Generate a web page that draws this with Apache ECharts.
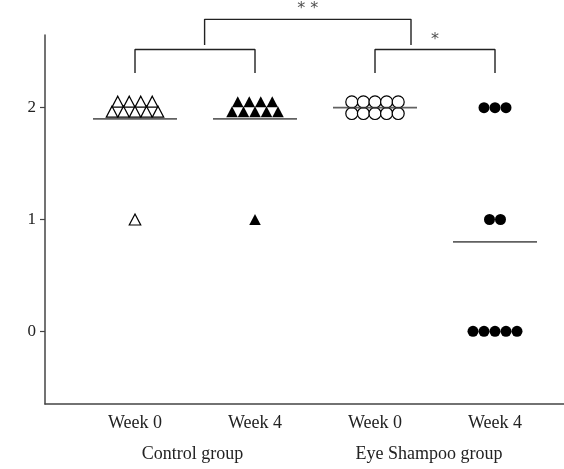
<!DOCTYPE html>
<html>
<head>
<meta charset="utf-8">
<script src="https://cdn.jsdelivr.net/npm/echarts@6/dist/echarts.min.js"></script>
<style>
html,body{margin:0;padding:0;background:#fff;}
#chart{width:564px;height:469px;}
</style>
</head>
<body>
<div id="chart"></div>
<script>
// ---- data ----
const categories = ['Week 0', 'Week 4', 'Week 0', 'Week 4'];
const groupLabels = ['Control group', 'Eye Shampoo group'];
const controlWeek0 = [2, 2, 2, 2, 2, 2, 2, 2, 2, 1];
const controlWeek4 = [2, 2, 2, 2, 2, 2, 2, 2, 2, 1];
const shampooWeek0 = [2, 2, 2, 2, 2, 2, 2, 2, 2, 2];
const shampooWeek4 = [2, 2, 2, 1, 1, 0, 0, 0, 0, 0];
const yTicks = [0, 1, 2];
const bracketFrom = [1, 3, 1.58];
const bracketTo = [2, 4, 3.3];
const bracketLabels = ['', '*', '**'];

// ---- layout / style ----
const FONT = 'Liberation Serif';
const groupLabelPos = [1.48, 3.45];
const bracketLevel = [0, 0, 1];
const levelTop = [2.52, 2.79];
const levelBottom = [2.31, 2.56];
const levelStar = [2.61, 2.88];

const groups = [controlWeek0, controlWeek4, shampooWeek0, shampooWeek4];
const styles = [
  {symbol: 'triangle', size: [11.5, 11], fill: '#fff', border: '#000', bw: 1.2, spacing: 11.5, rowGap: 10, perRow: 5, shift: -1},
  {symbol: 'triangle', size: [11.5, 11], fill: '#000', border: '#000', bw: 0, spacing: 11.5, rowGap: 10, perRow: 5, shift: -1},
  {symbol: 'circle', size: 12, fill: '#fff', border: '#000', bw: 1.2, spacing: 11.6, rowGap: 11.6, perRow: 5, shift: 0},
  {symbol: 'circle', size: 11, fill: '#000', border: '#000', bw: 0, spacing: 11, rowGap: 11, perRow: 5, shift: 0}
];

// beeswarm-style stacking of equal values (bottom row filled first)
function dodge(values, st, x) {
  const counts = {};
  values.forEach(v => { counts[v] = (counts[v] || 0) + 1; });
  const out = [];
  Object.keys(counts).forEach(k => {
    const v = Number(k);
    const n = counts[k];
    const rows = Math.ceil(n / st.perRow);
    let remaining = n;
    for (let r = 0; r < rows; r++) {
      const m = Math.min(st.perRow, remaining);
      remaining -= m;
      const dy = ((rows - 1) / 2 - r) * st.rowGap;
      for (let j = 0; j < m; j++) {
        const dx = (j - (m - 1) / 2) * st.spacing;
        out.push({value: [x, v], symbolOffset: [dx, dy + (rows > 1 ? st.shift : 0)]});
      }
    }
  });
  return out;
}

const series = [];
groups.forEach((vals, i) => {
  const st = styles[i];
  series.push({
    type: 'scatter',
    data: dodge(vals, st, i + 1),
    symbol: st.symbol,
    symbolSize: st.size,
    itemStyle: {color: st.fill, borderColor: st.border, borderWidth: st.bw, opacity: 1},
    emphasis: {disabled: true},
    z: 3
  });
});
series.push({
  type: 'scatter',
  data: groups.map((vals, i) => [i + 1, vals.reduce((a, b) => a + b, 0) / vals.length]),
  symbol: 'rect',
  symbolSize: [84, 1.8],
  itemStyle: {color: '#3a3a3a'},
  emphasis: {disabled: true},
  z: 5
});
bracketFrom.forEach((f, i) => {
  const t = bracketTo[i];
  const L = bracketLevel[i];
  series.push({
    type: 'line',
    data: [[f, levelBottom[L]], [f, levelTop[L]], [t, levelTop[L]], [t, levelBottom[L]]],
    symbol: 'none',
    clip: false,
    lineStyle: {color: '#222', width: 1.4},
    emphasis: {disabled: true},
    silent: true,
    z: 4
  });
  if (bracketLabels[i]) {
    series.push({
      type: 'scatter',
      data: [[(f + t) / 2, levelStar[L]]],
      symbolSize: 0,
      clip: false,
      silent: true,
      label: {show: true, position: 'inside', formatter: bracketLabels[i].split('').join(' '), fontFamily: 'DejaVu Sans', fontSize: 16, color: '#222'},
      z: 4
    });
  }
});

const chart = echarts.init(document.getElementById('chart'), null, {renderer: 'canvas'});
const xMin = 0.25, xMax = 4.575;
chart.setOption({
  animation: false,
  backgroundColor: '#fff',
  grid: {left: 45, right: 0, top: 35, bottom: 65, containLabel: false},
  xAxis: [
    {
      type: 'value', min: xMin, max: xMax, position: 'bottom',
      axisLine: {show: true, onZero: false, lineStyle: {color: '#444', width: 1.5}},
      axisTick: {show: false},
      splitLine: {show: false},
      axisLabel: {
        customValues: [1, 2, 3, 4],
        formatter: v => categories[Math.round(v) - 1],
        margin: 10, fontFamily: FONT, fontSize: 18, color: '#222'
      }
    },
    {
      type: 'value', min: xMin, max: xMax, position: 'bottom',
      axisLine: {show: false},
      axisTick: {show: false},
      splitLine: {show: false},
      axisLabel: {
        customValues: groupLabelPos,
        formatter: v => (v < 2.5 ? groupLabels[0] : groupLabels[1]),
        margin: 41, fontFamily: FONT, fontSize: 18, color: '#222'
      }
    }
  ],
  yAxis: {
    type: 'value', min: -0.65, max: 2.65,
    axisLine: {show: true, onZero: false, lineStyle: {color: '#444', width: 1.5}},
    axisTick: {show: true, customValues: yTicks, length: 5, lineStyle: {color: '#444', width: 1.2}},
    splitLine: {show: false},
    axisLabel: {customValues: yTicks, margin: 9, fontFamily: FONT, fontSize: 17, color: '#222'}
  },
  series: series
});
</script>
</body>
</html>
